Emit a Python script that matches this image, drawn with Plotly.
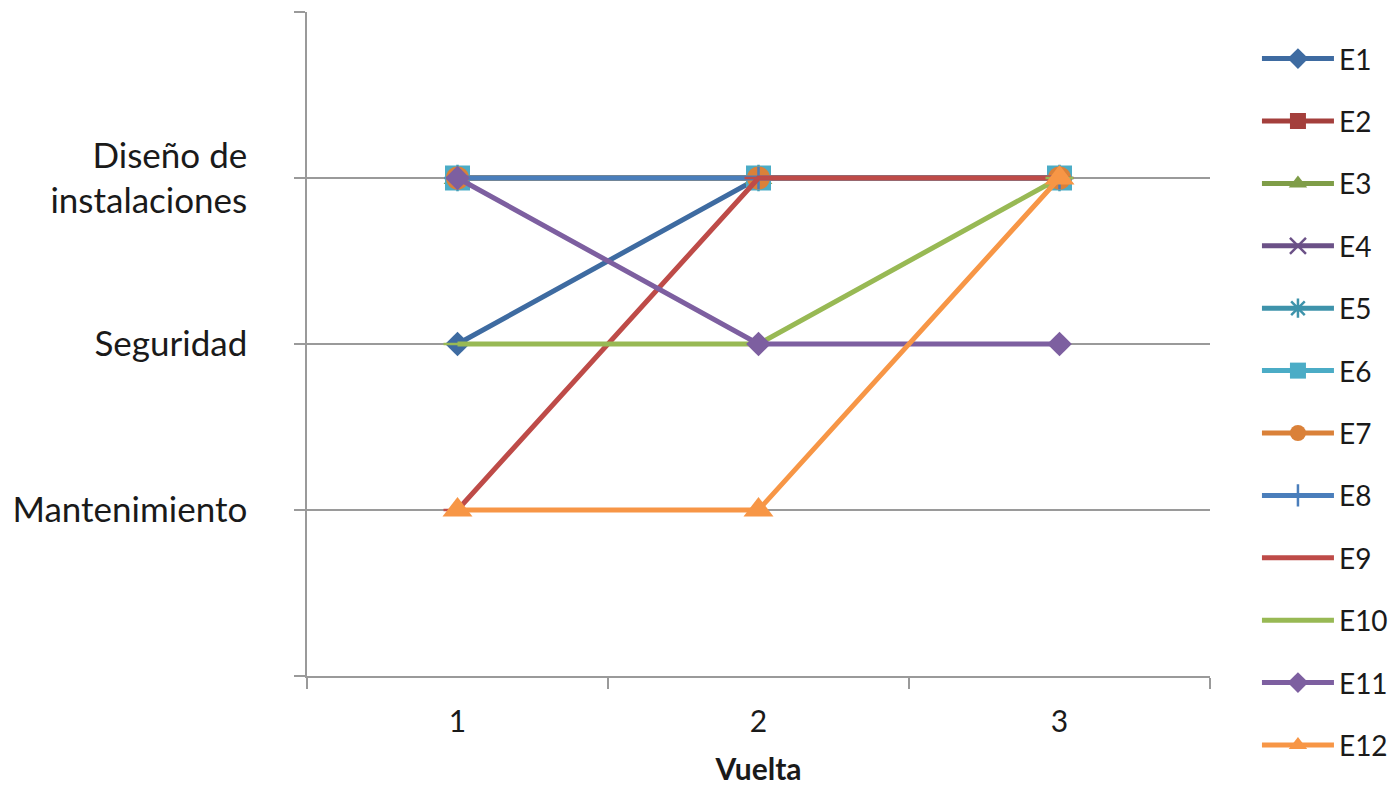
import plotly.graph_objects as go

# Rounds (x categories) and activity levels (y)
vueltas = ["1", "2", "3"]
niveles = ["Mantenimiento", "Seguridad", "Diseño de<br>instalaciones"]
nivel_vals = [1, 2, 3]

series_names = ["E1", "E2", "E3", "E4", "E5", "E6", "E7", "E8", "E9", "E10", "E11", "E12"]
E1 = [2, 3, 3]
E2 = [3, 3, 3]
E3 = [3, 3, 3]
E4 = [3, 3, 3]
E5 = [3, 3, 3]
E6 = [3, 3, 3]
E7 = [3, 3, 3]
E8 = [3, 3, 3]
E9 = [1, 3, 3]
E10 = [2, 2, 3]
E11 = [3, 2, 2]
E12 = [1, 1, 3]
series_values = [E1, E2, E3, E4, E5, E6, E7, E8, E9, E10, E11, E12]

colors = ["#3E6BA1", "#A43F3C", "#7F9D48", "#6B5187", "#3E93AB", "#4BACC6",
          "#DA8139", "#4A7EBB", "#BE4B48", "#98B954", "#7D5FA0", "#F79646"]
symbols = ["diamond", "square", "triangle-up", "x-thin-open", "asterisk-open", "square",
           "circle", "cross-thin-open", "line-ew", "line-ew", "diamond", "triangle-up"]
sizes = [19, 24, 24, 22, 22, 25, 23, 16, 20, 20, 19, 26]
marker_line_colors = [None, None, None, "#9C8BBA", "#6FB4C8", None,
                      None, "#4A7EBB", "#BE4B48", "#98B954", None, None]

FONT = "Lato"
TEXT = "#1a1a1a"

fig = go.Figure()
for name, vals, col, sym, sz, mlc in zip(series_names, series_values, colors,
                                         symbols, sizes, marker_line_colors):
    marker = dict(symbol=sym, size=sz, color=col)
    if mlc is not None:
        marker["line"] = dict(color=mlc, width=2.5)
    else:
        marker["line"] = dict(width=0)
    fig.add_trace(go.Scatter(
        x=vueltas, y=vals, name=name, mode="lines+markers",
        line=dict(color=col, width=5), marker=marker,
        legendgroup=name,
    ))

fig.update_layout(
    width=1397, height=791,
    margin=dict(l=307, r=187, t=12, b=115, autoexpand=False),
    paper_bgcolor="white", plot_bgcolor="white",
    font=dict(family=FONT, size=30, color=TEXT),
    showlegend=True,
    legend=dict(
        x=1.052, xanchor="left", y=0.967, yanchor="top",
        font=dict(family=FONT, size=28, color=TEXT),
        tracegroupgap=23, itemwidth=72, maxheight=790,
        bgcolor="rgba(0,0,0,0)",
    ),
)

fig.update_xaxes(
    type="category", categoryorder="array", categoryarray=vueltas,
    range=[-0.5, 2.5], tickson="boundaries",
    ticks="outside", ticklen=11, tickwidth=1.5, tickcolor="#9a9a9a",
    showline=True, linecolor="#9a9a9a", linewidth=1.5,
    showgrid=False, zeroline=False,
    tickfont=dict(family=FONT, size=30, color=TEXT),
    ticklabelstandoff=18,
    title=dict(text="<b>Vuelta</b>", font=dict(family=FONT, size=30, color=TEXT),
               standoff=22),
    fixedrange=True,
)

fig.update_yaxes(
    range=[0, 4],
    tickvals=[0] + nivel_vals + [4],
    ticktext=[""] + niveles + [""],
    ticks="outside", ticklen=11, tickwidth=1.5, tickcolor="#9a9a9a",
    showline=True, linecolor="#9a9a9a", linewidth=1.5,
    showgrid=True, gridcolor="#9a9a9a", gridwidth=1.5,
    zeroline=False,
    tickfont=dict(family=FONT, size=35, color=TEXT),
    ticklabelstandoff=40,
    fixedrange=True,
)

fig.write_html("out.html")
